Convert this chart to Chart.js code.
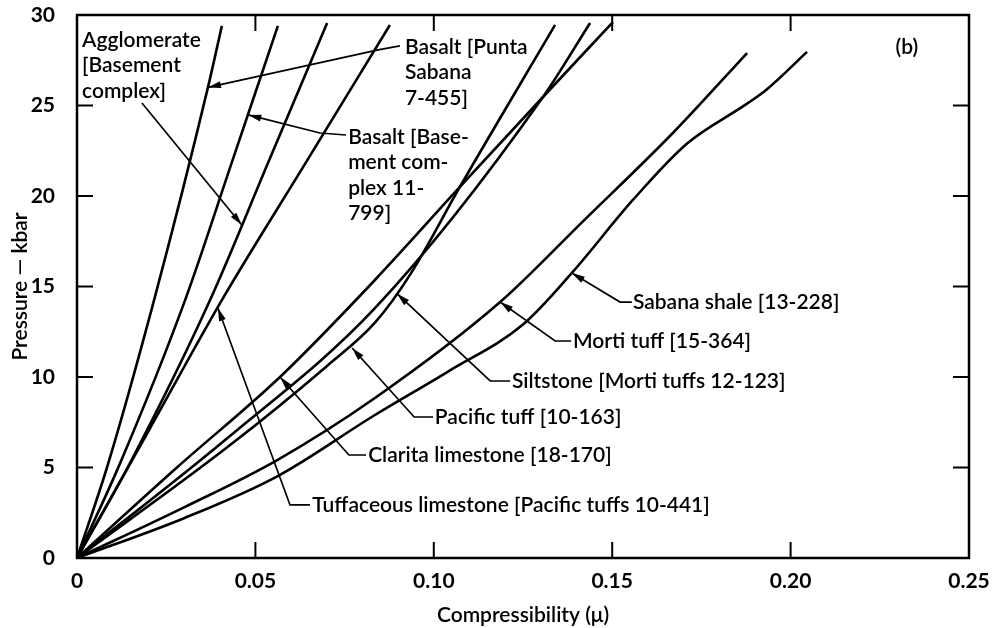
<!DOCTYPE html>
<html>
<head>
<meta charset="utf-8">
<script src="https://cdn.jsdelivr.net/npm/chart.js@4.4.1/dist/chart.umd.min.js"></script>
<style>
  html, body { margin: 0; padding: 0; background: #fff; }
  canvas { display: block; }
</style>
</head>
<body>
<canvas id="myChart" width="1000" height="628"></canvas>
<script>
// values: x = compressibility (mu), y = pressure (kbar)
var xTickLabels = ["0", "0.05", "0.10", "0.15", "0.20", "0.25"];
var yTickLabels = ["0", "5", "10", "15", "20", "25", "30"];

var basaltPuntaX = [0, 0.0084, 0.0216, 0.0367, 0.0406];
var basaltPuntaY = [0, 5.0, 14.25, 26.0, 29.4];

var basaltBasementX = [0, 0.012, 0.0303, 0.0433, 0.0563];
var basaltBasementY = [0, 5.2, 14.25, 21.8, 29.4];

var agglomerateX = [0, 0.015, 0.0373, 0.0537, 0.0701];
var agglomerateY = [0, 5.3, 14.25, 21.9, 29.56];

var tuffLimeX = [0, 0.02, 0.0406, 0.064, 0.0877];
var tuffLimeY = [0, 7.0, 14.25, 21.8, 29.45];

var claritaX = [0, 0.028, 0.0569, 0.0835, 0.1073, 0.1306, 0.1502];
var claritaY = [0, 5.0, 10.0, 15.36, 20.5, 25.47, 29.61];

var pacificX = [0, 0.042, 0.0835, 0.1306, 0.1438];
var pacificY = [0, 6.6, 13.8, 25.47, 29.56];

var siltstoneX = [0, 0.042, 0.07, 0.0835, 0.0935, 0.1073, 0.134];
var siltstoneY = [0, 6.1, 10.6, 13.0, 15.7, 20.5, 29.45];

var mortiX = [0, 0.03, 0.056, 0.0835, 0.1186, 0.1418, 0.167, 0.1878];
var mortiY = [0, 2.8, 5.4, 8.84, 14.14, 18.6, 23.48, 27.9];

var sabanaX = [0, 0.03, 0.056, 0.0835, 0.104, 0.125, 0.1387, 0.1558, 0.171, 0.1878, 0.1934, 0.2046];
var sabanaY = [0, 2.2, 4.5, 7.9, 10.3, 12.9, 15.75, 19.78, 22.9, 25.1, 25.9, 27.96];

// callouts: text anchor and arrow path in data units
var notes = [
  { text: ["Agglomerate", "[Basement", "complex]"], x: 0.0014, y: 28.62,
    arrow: [[0.0182, 25.14], [0.0462, 18.4]] },
  { text: ["Basalt [Punta", "Sabana", "7-455]"], x: 0.0919, y: 28.23,
    arrow: [[0.0905, 28.29], [0.0844, 28.07], [0.0367, 26.0]] },
  { text: ["Basalt [Base-", "ment com-", "plex 11-", "799]"], x: 0.076, y: 23.26,
    arrow: [[0.0754, 23.37], [0.0681, 23.48], [0.048, 24.48]] },
  { text: ["Sabana shale [13-228]"], x: 0.1558, y: 14.14,
    arrow: [[0.1555, 14.14], [0.1522, 14.14], [0.1387, 15.75]] },
  { text: ["Morti tuff [15-364]"], x: 0.139, y: 11.99,
    arrow: [[0.1385, 11.99], [0.134, 11.99], [0.1186, 14.14]] },
  { text: ["Siltstone [Morti tuffs 12-123]"], x: 0.1219, y: 9.78,
    arrow: [[0.1214, 9.78], [0.1158, 9.78], [0.0897, 14.6]] },
  { text: ["Pacific tuff [10-163]"], x: 0.1003, y: 7.79,
    arrow: [[0.0998, 7.79], [0.0945, 7.79], [0.0771, 11.6]] },
  { text: ["Clarita limestone [18-170]"], x: 0.0816, y: 5.69,
    arrow: [[0.081, 5.69], [0.0762, 5.69], [0.0569, 10.0]] },
  { text: ["Tuffaceous limestone [Pacific tuffs 10-441]"], x: 0.0659, y: 2.93,
    arrow: [[0.0653, 2.93], [0.0597, 2.93], [0.0395, 13.81]] }
];
var panelTag = { text: "(b)", x: 0.2326, y: 28.23 };

var FONT = "Lato, 'Noto Sans', sans-serif";

function curve(xs, ys) {
  var pts = [];
  for (var i = 0; i < xs.length; i++) pts.push({ x: xs[i], y: ys[i] });
  return {
    data: pts,
    borderColor: "#000",
    borderWidth: 2.6,
    pointRadius: 0,
    fill: false,
    cubicInterpolationMode: "monotone"
  };
}

var framePlugin = {
  id: "frame",
  afterDatasetsDraw: function (chart) {
    var c = chart.ctx, a = chart.chartArea;
    var xs = chart.scales.x, ys = chart.scales.y;
    c.save();
    c.strokeStyle = "#000";
    c.lineWidth = 2.5;
    c.strokeRect(a.left, a.top, a.right - a.left, a.bottom - a.top);
    // inward ticks on all four sides
    c.lineWidth = 2;
    var tl = 16;
    xs.ticks.forEach(function (t, i) {
      if (i === 0 || i === xs.ticks.length - 1) return;
      var px = xs.getPixelForValue(t.value);
      c.beginPath();
      c.moveTo(px, a.bottom); c.lineTo(px, a.bottom - tl);
      c.moveTo(px, a.top); c.lineTo(px, a.top + tl);
      c.stroke();
    });
    ys.ticks.forEach(function (t, i) {
      if (i === 0 || i === ys.ticks.length - 1) return;
      var py = ys.getPixelForValue(t.value);
      c.beginPath();
      c.moveTo(a.left, py); c.lineTo(a.left + tl, py);
      c.moveTo(a.right, py); c.lineTo(a.right - tl, py);
      c.stroke();
    });

    // callout labels and arrows
    c.fillStyle = "#000";
    c.font = "600 21px " + FONT;
    c.textAlign = "left";
    c.textBaseline = "middle";
    notes.forEach(function (n) {
      var px = xs.getPixelForValue(n.x), py = ys.getPixelForValue(n.y);
      n.text.forEach(function (line, i) {
        c.fillText(line, px, py + i * 25.5);
      });
      var p = n.arrow.map(function (q) {
        return [xs.getPixelForValue(q[0]), ys.getPixelForValue(q[1])];
      });
      c.lineWidth = 1.7;
      c.beginPath();
      c.moveTo(p[0][0], p[0][1]);
      for (var k = 1; k < p.length; k++) c.lineTo(p[k][0], p[k][1]);
      c.stroke();
      var tip = p[p.length - 1], prev = p[p.length - 2];
      var ang = Math.atan2(tip[1] - prev[1], tip[0] - prev[0]);
      c.beginPath();
      c.moveTo(tip[0], tip[1]);
      c.lineTo(tip[0] - 13 * Math.cos(ang) + 3.5 * Math.sin(ang), tip[1] - 13 * Math.sin(ang) - 3.5 * Math.cos(ang));
      c.lineTo(tip[0] - 13 * Math.cos(ang) - 3.5 * Math.sin(ang), tip[1] - 13 * Math.sin(ang) + 3.5 * Math.cos(ang));
      c.closePath();
      c.fill();
    });
    c.textAlign = "center";
    c.fillText(panelTag.text, xs.getPixelForValue(panelTag.x), ys.getPixelForValue(panelTag.y));
    c.restore();
  }
};

var ctx = document.getElementById("myChart");
var myChart = new Chart(ctx, {
  type: "line",
  data: {
    datasets: [
      curve(basaltPuntaX, basaltPuntaY),
      curve(basaltBasementX, basaltBasementY),
      curve(agglomerateX, agglomerateY),
      curve(tuffLimeX, tuffLimeY),
      curve(claritaX, claritaY),
      curve(pacificX, pacificY),
      curve(siltstoneX, siltstoneY),
      curve(mortiX, mortiY),
      curve(sabanaX, sabanaY)
    ]
  },
  options: {
    responsive: false,
    animation: false,
    devicePixelRatio: 1,
    layout: { padding: { top: 15, right: 31, left: 0, bottom: 0 } },
    plugins: {
      legend: { display: false },
      tooltip: { enabled: false }
    },
    scales: {
      x: {
        type: "linear",
        min: 0,
        max: 0.25,
        grid: { display: false },
        border: { display: false },
        ticks: {
          stepSize: 0.05,
          color: "#000",
          padding: 3,
          maxRotation: 0,
          font: { family: FONT, size: 21, weight: "bold" },
          callback: function (v, i) { return xTickLabels[i]; }
        },
        title: {
          display: true,
          text: "Compressibility (\u03bc)",
          color: "#000",
          font: { family: FONT, size: 21, weight: "600" },
          padding: { top: 0, bottom: 0 }
        },
        afterFit: function (s) { s.height = 70; }
      },
      y: {
        type: "linear",
        min: 0,
        max: 30,
        grid: { display: false },
        border: { display: false },
        ticks: {
          stepSize: 5,
          color: "#000",
          padding: 14,
          font: { family: FONT, size: 21, weight: "bold" },
          callback: function (v, i) { return yTickLabels[i]; }
        },
        title: {
          display: true,
          text: "Pressure \u2014 kbar",
          color: "#000",
          font: { family: FONT, size: 21, weight: "600" },
          padding: { top: 8, bottom: 0 }
        },
        afterFit: function (s) {
          s.width = 77;
          s.paddingTop = 0;
          s.paddingBottom = 0;
        }
      }
    }
  },
  plugins: [framePlugin]
});
</script>
</body>
</html>
